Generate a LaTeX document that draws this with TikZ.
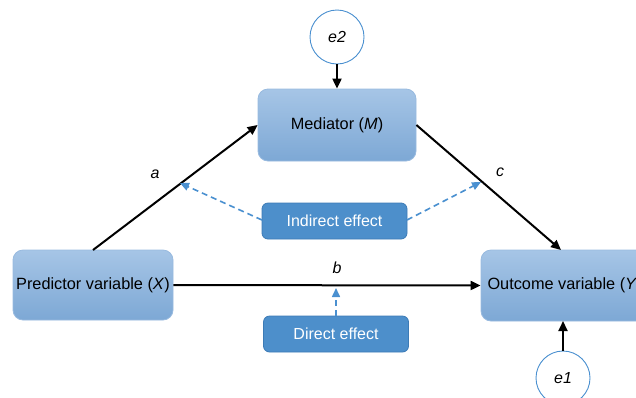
\documentclass[tikz,border=0pt]{standalone}
\usepackage{fontspec}
\setmainfont{Liberation Sans}
\usetikzlibrary{arrows.meta}
\definecolor{boxtop}{HTML}{A6C5E6}
\definecolor{boxbot}{HTML}{7DA8D5}
\definecolor{boxedge}{HTML}{98BADF}
\definecolor{efffill}{HTML}{4D8FCB}
\definecolor{effedge}{HTML}{3C7BB6}
\definecolor{dashcol}{HTML}{4A90D0}
\tikzset{
  varbox/.style={draw=boxedge, line width=0.8pt, rounded corners=10pt, top color=boxtop, bottom color=boxbot, font=\fontsize{16.3}{19}\selectfont, inner sep=0pt},
  effbox/.style={draw=effedge, line width=0.8pt, rounded corners=6pt, fill=efffill, text=white, font=\fontsize{16}{19}\selectfont, minimum width=145pt, minimum height=36pt, inner sep=0pt},
  errc/.style={circle, draw=dashcol, line width=0.9pt, fill=white, minimum size=54pt, inner sep=0pt, font=\fontsize{16}{19}\selectfont\itshape},
  path/.style={line width=2pt, -{Triangle[length=10pt,width=9pt]}},
  effarrow/.style={draw=dashcol, line width=1.6pt, dash pattern=on 6pt off 4pt, -{Triangle[length=9pt,width=8pt]}},
  lab/.style={font=\fontsize{16}{19}\selectfont\itshape}
}
\begin{document}
\begin{tikzpicture}[x=1pt,y=-1pt]
\useasboundingbox (0,0) rectangle (636,397);
\node[varbox, minimum width=158pt, minimum height=72pt] (M) at (337,125) {Mediator (\textit{M})};
\node[varbox, minimum width=160pt, minimum height=70pt] (X) at (93,285) {Predictor variable (\textit{X})};
\node[varbox, minimum width=168pt, minimum height=71pt] (Y) at (565,285.5) {Outcome variable (\textit{Y})};
\node[errc] (e2) at (337,37) {e2};
\node[errc] (e1) at (563,378) {e1};
\node[effbox] (ind) at (334.5,221) {Indirect effect};
\node[effbox] (dir) at (336,334) {Direct effect};
\coordinate (Xt) at (93,250);
\coordinate (Yt) at (561,250);
\coordinate (Yb) at (563,321);
\draw[path] (Xt) -- (M.west);
\draw[path] (M.east) -- (Yt);
\draw[path] (X.east) -- (Y.west);
\draw[path] (e2.south) -- (M.north);
\draw[path] (e1.north) -- (Yb);
\coordinate (ta) at (180,183);
\coordinate (tc) at (481,182);
\coordinate (tb) at (336,288);
\coordinate (il) at (262,220);
\coordinate (ir) at (407,220);
\draw[effarrow] (il) -- (ta);
\draw[effarrow] (ir) -- (tc);
\draw[effarrow] (dir.north) -- (tb);
\node[lab] (la) at (155,174) {a};
\node[lab] (lc) at (500,172) {c};
\node[lab] (lb) at (337,268) {b};
\end{tikzpicture}
\end{document}
